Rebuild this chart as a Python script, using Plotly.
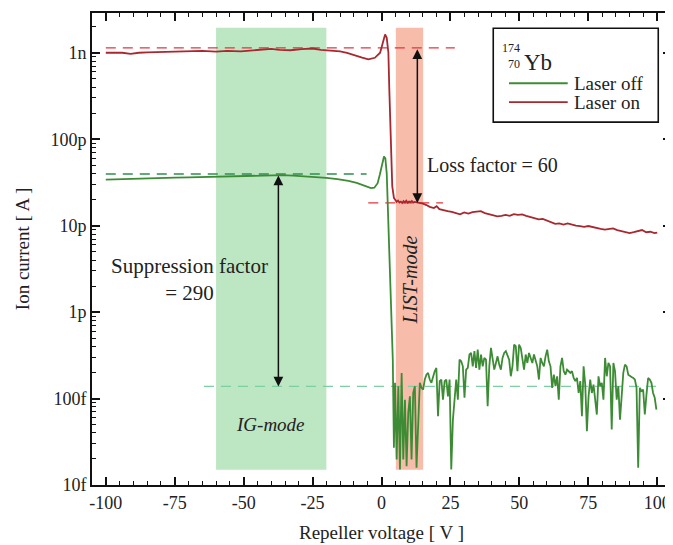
import numpy as np
import plotly.graph_objects as go

# ---------------- data ----------------
# Laser off: smooth part + steep drop
off_v_head = [-100, -95, -90, -85, -80, -75, -70, -65, -60, -55,
              -50, -45, -40, -36, -32, -28, -24, -20, -16, -12,
              -9, -7, -5.2, -3.8, -2.6, -1.4, -0.6, 0.2, 0.9, 1.4,
              1.9, 2.4, 2.8, 3.1, 3.5, 3.8, 4.1, 4.5]
off_i_head = [3.40e-11, 3.45e-11, 3.50e-11, 3.55e-11, 3.58e-11, 3.60e-11, 3.62e-11, 3.66e-11, 3.70e-11, 3.74e-11,
              3.78e-11, 3.80e-11, 3.83e-11, 3.84e-11, 3.80e-11, 3.74e-11, 3.66e-11, 3.58e-11, 3.45e-11, 3.30e-11,
              3.12e-11, 2.97e-11, 2.80e-11, 2.72e-11, 2.75e-11, 3.10e-11, 3.90e-11, 5.20e-11, 6.30e-11, 6.00e-11,
              4.00e-11, 1.30e-11, 4.5e-12, 2.2e-12, 9.0e-13, 4.9e-13, 2.8e-13, 2.7e-14]

# Laser off: noisy tail (current in units of 100 fA)
off_v_tail = [4.9, 5.5, 6.1, 6.7, 7.3, 7.9, 8.5, 9.1, 9.7, 10.3,
              10.9, 11.5, 12.1, 12.7, 13.3, 13.9, 14.5, 15.1, 15.7, 16.3,
              16.9, 17.5, 18.1, 18.7, 19.3, 19.9, 20.5, 21.1, 21.7, 22.3,
              22.9, 23.5, 24.1, 24.7, 25.3, 25.9, 26.5, 27.1, 27.7, 28.3,
              28.9, 29.5, 30.1, 30.7, 31.3, 31.9, 32.5, 33.1, 33.7, 34.3,
              34.9, 35.5, 36.1, 36.7, 37.3, 37.9, 38.5, 39.1, 39.7, 40.3,
              40.9, 41.5, 42.1, 42.7, 43.3, 43.9, 44.5, 45.1, 45.7, 46.3,
              46.9, 47.5, 48.1, 48.7, 49.3, 49.9, 50.5, 51.1, 51.7, 52.3,
              52.9, 53.5, 54.1, 54.7, 55.3, 55.9, 56.5, 57.1, 57.7, 58.3,
              58.9, 59.5, 60.1, 60.7, 61.3, 61.9, 62.5, 63.1, 63.7, 64.3,
              64.9, 65.5, 66.1, 66.7, 67.3, 67.9, 68.5, 69.1, 69.7, 70.3,
              70.9, 71.5, 72.1, 72.7, 73.3, 73.9, 74.5, 75.1, 75.7, 76.3,
              76.9, 77.5, 78.1, 78.7, 79.3, 79.9, 80.5, 81.1, 81.7, 82.3,
              82.9, 83.5, 84.1, 84.7, 85.3, 85.9, 86.5, 87.1, 87.7, 88.3,
              88.9, 89.5, 90.1, 90.7, 91.3, 91.9, 92.5, 93.1, 93.7, 94.3,
              94.9, 95.5, 96.1, 96.7, 97.3, 97.9, 98.5, 99.1, 99.7]
off_i_tail_100fA = [1.52, 0.197, 1.39, 0.151, 1.98, 0.197, 0.97, 0.165, 0.683, 1.06,
                    0.197, 1.16, 1.39, 0.158, 0.479, 1.52, 1.33, 1.27, 1.66, 1.89,
                    1.98, 1.66, 1.52, 1.81, 2.07, 2.26, 0.625, 1.59, 1.66, 0.97,
                    1.59, 1.66, 1.06, 1.66, 0.151, 0.571, 1.06, 1.66, 0.97, 2.82,
                    2.70, 2.36, 1.02, 2.16, 2.26, 3.23, 3.37, 2.36, 3.53, 2.26,
                    3.68, 2.16, 3.23, 2.36, 2.95, 2.82, 0.815, 2.36, 3.85, 2.70,
                    2.16, 2.58, 3.08, 2.47, 2.16, 2.95, 3.37, 3.53, 3.08, 2.82,
                    1.81, 2.36, 4.21, 4.03, 2.07, 4.21, 3.85, 2.95, 2.16, 3.23,
                    2.58, 3.37, 2.95, 2.58, 3.23, 2.82, 2.36, 1.66, 2.95, 2.58,
                    2.36, 3.08, 3.68, 2.70, 2.36, 1.33, 1.89, 1.39, 1.81, 0.97,
                    2.36, 2.95, 2.07, 1.89, 2.16, 2.07, 1.98, 2.07, 1.73, 1.59,
                    1.73, 1.16, 1.59, 0.625, 2.36, 1.45, 0.419, 1.06, 1.66, 1.16,
                    1.45, 0.97, 0.653, 1.81, 1.39, 1.52, 0.97, 2.95, 1.81, 2.58,
                    2.36, 0.438, 2.58, 2.07, 0.97, 1.39, 0.571, 1.06, 1.98, 2.47,
                    2.36, 1.89, 1.81, 1.78, 1.73, 1.66, 1.33, 0.158, 1.33, 1.22,
                    1.27, 0.653, 1.11, 1.73, 1.66, 1.52, 1.16, 1.02, 0.746]

# Laser on
on_v = [-100, -97, -94, -91, -88, -85, -81, -77, -73, -69,
        -65, -60, -56, -51, -47, -43, -40, -37, -33, -29,
        -25, -22, -18.6, -15, -12.5, -10.2, -7, -4.8, -2.4, -0.5,
        0.4, 1.3, 1.9, 2.5, 2.8, 3.2, 3.5, 3.9, 4.5, 5.5,
        6.0, 6.5, 7.0, 7.5, 8.0, 8.5, 9.0, 9.5, 10.0, 10.5,
        11.0, 11.5, 12.0, 13.0, 14.0, 15.0, 16.3, 17.5, 19, 20,
        21, 22.5, 24, 25.5, 27, 28.5, 30, 31.5, 33, 34.5,
        36, 37.5, 39, 40.5, 42, 43.5, 45, 46.5, 48, 49.5,
        51, 52.5, 54, 55.5, 57, 58.5, 60, 61.5, 63, 64.5,
        66, 67.5, 69, 70.5, 72, 73.5, 75, 76.5, 78, 79.5,
        81, 82.5, 84, 85.5, 87, 88.5, 90, 91.5, 93, 94.5,
        96, 97.5, 99, 100]
on_i = [1.00e-9, 0.99e-9, 1.00e-9, 0.97e-9, 1.00e-9, 1.01e-9, 1.02e-9, 1.03e-9, 1.02e-9, 1.04e-9,
        1.05e-9, 1.03e-9, 1.05e-9, 1.04e-9, 1.07e-9, 1.08e-9, 1.11e-9, 1.08e-9, 1.07e-9, 1.10e-9,
        1.12e-9, 1.08e-9, 1.07e-9, 1.04e-9, 1.00e-9, 0.956e-9, 0.88e-9, 0.84e-9, 0.875e-9, 1.00e-9,
        1.30e-9, 1.63e-9, 1.49e-9, 1.00e-9, 4.1e-10, 1.7e-10, 5.8e-11, 2.87e-11, 2.1e-11, 1.88e-11,
        1.95e-11, 1.85e-11, 1.90e-11, 1.83e-11, 1.92e-11, 1.86e-11, 1.94e-11, 1.84e-11, 1.90e-11, 1.87e-11,
        1.93e-11, 1.85e-11, 1.88e-11, 1.86e-11, 1.82e-11, 1.80e-11, 1.73e-11, 1.65e-11, 1.60e-11, 1.68e-11,
        1.55e-11, 1.50e-11, 1.47e-11, 1.44e-11, 1.38e-11, 1.35e-11, 1.42e-11, 1.38e-11, 1.43e-11, 1.45e-11,
        1.47e-11, 1.40e-11, 1.36e-11, 1.32e-11, 1.28e-11, 1.30e-11, 1.33e-11, 1.30e-11, 1.36e-11, 1.33e-11,
        1.35e-11, 1.30e-11, 1.26e-11, 1.20e-11, 1.18e-11, 1.20e-11, 1.15e-11, 1.10e-11, 1.05e-11, 1.06e-11,
        1.03e-11, 1.06e-11, 1.02e-11, 1.00e-11, 9.9e-12, 9.7e-12, 9.9e-12, 9.6e-12, 9.5e-12, 9.2e-12,
        9.0e-12, 9.2e-12, 9.3e-12, 8.9e-12, 8.7e-12, 8.5e-12, 8.2e-12, 8.4e-12, 8.6e-12, 8.9e-12,
        8.4e-12, 8.5e-12, 8.2e-12, 8.3e-12]

# reference levels (dashed lines) and their x extents
ig_level, ig_level_x = 3.96e-11, [-100, -5.4]
noise_level, noise_level_x = 1.38e-13, [-64.4, 100]
on_level, on_level_x = 1.14e-9, [-100, 26.6]
list_level, list_level_x = 1.83e-11, [-4.8, 22.3]

# shaded mode bands
ig_band = [-60, -20]
list_band = [5.2, 15.1]
band_y = [1.5e-14, 1.95e-9]

# arrows
supp_arrow_x = -37.4
loss_arrow_x = 13.0

# ticks
x_tickvals = [-100, -75, -50, -25, 0, 25, 50, 75, 100]
x_ticktext = ["-100", "-75", "-50", "-25", "0", "25", "50", "75", "100"]
y_tickvals = [1e-9, 1e-10, 1e-11, 1e-12, 1e-13, 1e-14]
y_ticktext = ["1n", "100p", "10p", "1p", "100f", "10f"]

series_names = ["Laser off", "Laser on"]

# ---------------- figure ----------------
off_v = off_v_head + off_v_tail
off_i = off_i_head + [v * 1e-13 for v in off_i_tail_100fA]

FONT = "Liberation Serif"
TXT = "#222222"
GREEN = "#3d8c35"
RED = "#a8282f"
AX = "#111111"

fig = go.Figure()


def band(xr, color):
    fig.add_trace(go.Scatter(
        x=[xr[0], xr[1], xr[1], xr[0], xr[0]],
        y=[band_y[0], band_y[0], band_y[1], band_y[1], band_y[0]],
        fill="toself", fillcolor=color, mode="lines", line=dict(width=0),
        hoverinfo="skip", showlegend=False))


band(ig_band, "#bde6c3")
band(list_band, "#f8bcaa")


def level(xr, yv, color):
    fig.add_trace(go.Scatter(
        x=xr, y=[yv, yv], mode="lines",
        line=dict(color=color, width=1.3, dash="10px,7px"),
        hoverinfo="skip", showlegend=False))


level(on_level_x, on_level, "#e8333a")
level(list_level_x, list_level, "#e8333a")
level(ig_level_x, ig_level, "#2f8f50")
level(noise_level_x, noise_level, "#7dcfa2")

fig.add_trace(go.Scatter(x=off_v, y=off_i, mode="lines", name=series_names[0],
                         line=dict(color=GREEN, width=1.8), showlegend=False))
fig.add_trace(go.Scatter(x=on_v, y=on_i, mode="lines", name=series_names[1],
                         line=dict(color=RED, width=1.8), showlegend=False))

# arrows (annotation coordinates on a log axis are log10 values)
for ax_x, top, bot in [(supp_arrow_x, ig_level, noise_level),
                       (loss_arrow_x, on_level, list_level)]:
    fig.add_annotation(x=ax_x, y=np.log10(bot), ax=ax_x, ay=np.log10(top),
                       xref="x", yref="y", axref="x", ayref="y", text="",
                       showarrow=True, arrowhead=2, startarrowhead=2,
                       arrowside="end+start", arrowsize=1.3, startarrowsize=1.3,
                       arrowwidth=1.5, arrowcolor=AX)

ann_font = dict(family=FONT, size=20, color=TXT)
fig.add_annotation(x=-69.7, y=np.log10(2.38e-12), text="Suppression factor<br>= 290",
                   showarrow=False, align="center", font=dict(family=FONT, size=21, color=TXT))
fig.add_annotation(x=15.7, y=np.log10(5.07e-11), text="Loss factor = 60",
                   showarrow=False, xanchor="left", font=ann_font)
fig.add_annotation(x=-40.3, y=-13.30, text="<i>IG-mode</i>", showarrow=False,
                   font=dict(family=FONT, size=19, color=TXT))
fig.add_annotation(x=10.3, y=np.log10(2.4e-12), text="<i>LIST-mode</i>", showarrow=False,
                   textangle=-90, font=dict(family=FONT, size=20, color=TXT))

# ---- legend box (drawn in paper coordinates) ----
LEG = dict(x0=0.693, x1=0.978, y0=0.7687, y1=0.9676)
fig.add_shape(type="rect", xref="paper", yref="paper", x0=LEG["x0"], x1=LEG["x1"],
              y0=LEG["y0"], y1=LEG["y1"], line=dict(color=AX, width=1.6),
              fillcolor="white", layer="above")
leg_rows = [(0.8512, GREEN), (0.8110, RED)]
for (yy, col), name in zip(leg_rows, series_names):
    fig.add_shape(type="line", xref="paper", yref="paper", x0=0.7202, x1=0.8216,
                  y0=yy, y1=yy, line=dict(color=col, width=1.8), layer="above")
    fig.add_annotation(x=0.8285, y=yy, xref="paper", yref="paper", text=name,
                       xanchor="left", yanchor="middle", showarrow=False,
                       font=dict(family=FONT, size=19, color=TXT))
# isotope notation: mass number over atomic number, then symbol
fig.add_annotation(x=0.7435, y=0.925, xref="paper", yref="paper", text="Yb",
                   xanchor="left", showarrow=False, font=dict(family=FONT, size=23, color=TXT))
fig.add_annotation(x=0.7425, y=0.945, xref="paper", yref="paper", text="174",
                   xanchor="right", showarrow=False, font=dict(family=FONT, size=12, color=TXT))
fig.add_annotation(x=0.7425, y=0.912, xref="paper", yref="paper", text="70",
                   xanchor="right", showarrow=False, font=dict(family=FONT, size=12, color=TXT))

axis_common = dict(showline=True, linewidth=2, linecolor=AX, mirror="allticks",
                   ticks="inside", ticklen=8, tickwidth=1.5, tickcolor=AX,
                   showgrid=False, zeroline=False, automargin=False,
                   tickfont=dict(family=FONT, size=18, color=TXT))

minor_y = [m * 10.0 ** e for e in range(-14, -8) for m in range(2, 10)]

fig.update_xaxes(range=[-105, 105], tickmode="array", tickvals=x_tickvals, ticktext=x_ticktext,
                 minor=dict(ticks="inside", dtick=5, tick0=0, ticklen=4, tickwidth=1.2,
                            tickcolor=AX),
                 title=dict(text="Repeller voltage [ V ]", font=dict(family=FONT, size=19, color=TXT),
                            standoff=14),
                 **axis_common)
fig.update_yaxes(type="log", range=[-14, -8.54], tickmode="array", tickvals=y_tickvals,
                 ticktext=y_ticktext,
                 minor=dict(ticks="inside", tickmode="array", tickvals=minor_y, ticklen=4,
                            tickwidth=1.2, tickcolor=AX),
                 title=dict(text="Ion current [ A ]", font=dict(family=FONT, size=19, color=TXT),
                            standoff=16),
                 **axis_common)

# the page body adds an 8 px margin, so the figure is sized to fit inside it
fig.update_layout(
    width=665, height=537,
    margin=dict(l=84, r=2, t=5, b=60),
    paper_bgcolor="white", plot_bgcolor="white",
    font=dict(family=FONT, size=18, color=TXT),
    showlegend=False,
)

fig.write_html("out.html")
